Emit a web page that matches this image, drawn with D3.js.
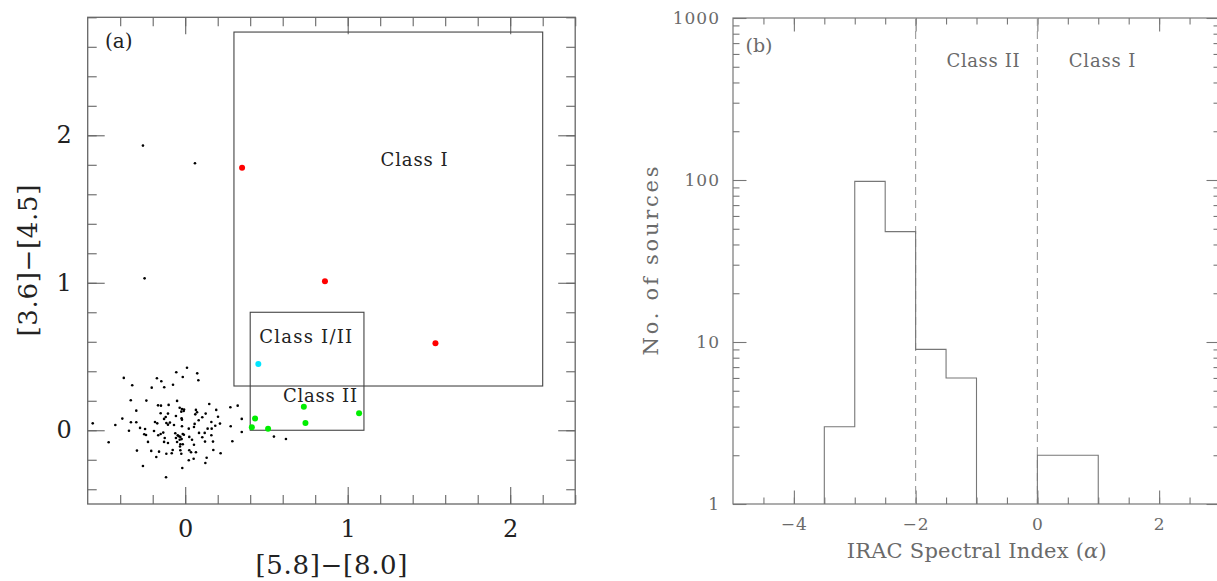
<!DOCTYPE html>
<html>
<head>
<meta charset="utf-8">
<script src="https://cdn.jsdelivr.net/npm/d3@7"></script>
<style>
  body { margin: 0; background: #fff; }
  svg { display: block; }
  text { font-family: "DejaVu Serif", "Liberation Serif", serif; }
</style>
</head>
<body>
<div id="plot"></div>
<script>
// ---- data: panel (a) colour-colour diagram ----
// field stars (black dots)
var bgX = [-0.378,-0.326,-0.174,-0.147,-0.206,-0.129,-0.335,-0.239,-0.167,-0.149,-0.102,-0.301,-0.151,-0.106,-0.120,-0.130,-0.387,
  -0.055,0.011,-0.015,0.074,0.081,-0.075,-0.050,-0.034,-0.020,-0.007,-0.024,-0.009,0.066,0.073,0.062,0.148,0.191,0.126,0.202,0.278,0.323,-0.057,-0.022,0.105,0.348,
  -0.569,-0.430,-0.334,-0.301,-0.346,-0.278,-0.247,-0.252,-0.241,-0.186,-0.172,-0.192,-0.166,-0.151,-0.116,-0.106,-0.135,-0.126,-0.229,-0.130,-0.106,-0.471,-0.297,-0.209,-0.161,-0.116,-0.178,-0.260,-0.118,
  -0.069,-0.020,-0.020,0.058,0.054,0.083,0.161,0.185,0.214,0.138,0.163,0.022,0.085,0.120,0.161,0.105,-0.061,-0.046,-0.030,-0.015,-0.057,-0.034,-0.015,-0.030,0.025,0.042,0.054,0.122,0.171,0.280,0.348,0.290,
  -0.077,-0.083,-0.030,-0.024,0.025,0.036,0.066,0.173,0.218,0.052,0.022,0.132,0.124,-0.018,-0.094,
  -0.040,-0.022,-0.050,-0.008,-0.032,0.546,0.620,-0.26,0.06,-0.25];
var bgY = [0.355,0.305,0.353,0.332,0.289,0.292,0.203,0.201,0.169,0.167,0.172,0.133,0.115,0.113,0.090,0.077,0.079,
  0.393,0.424,0.361,0.386,0.339,0.309,0.199,0.153,0.144,0.140,0.126,0.131,0.138,0.122,0.108,0.178,0.138,0.113,0.092,0.156,0.167,0.097,0.081,0.088,0.077,
  0.047,0.036,0.054,0.054,-0.003,0.016,0.009,-0.027,-0.032,0.056,0.047,-0.005,-0.034,-0.025,0.049,0.038,-0.016,-0.052,-0.079,-0.079,-0.086,-0.081,-0.138,-0.140,-0.145,-0.159,-0.181,-0.242,-0.319,
  0.036,0.072,0.027,0.043,0.022,0.068,0.056,0.031,0.045,0.011,0.011,0.011,-0.018,-0.018,-0.034,-0.047,-0.020,-0.034,-0.045,-0.025,-0.052,-0.064,-0.095,-0.095,-0.045,-0.064,-0.098,-0.077,-0.077,0.027,-0.012,-0.075,
  -0.134,-0.156,-0.136,-0.159,-0.136,-0.149,-0.149,-0.134,-0.156,-0.193,-0.203,-0.186,-0.222,-0.256,0.052,
  -0.040,-0.060,-0.080,-0.030,-0.110,-0.043,-0.059,1.93,1.81,1.03];
// young stellar objects
var class1X = [0.35, 0.86, 1.54], class1Y = [1.78, 1.01, 0.59];
var class12X = [0.45], class12Y = [0.45];
var class2X = [0.41, 0.43, 0.51, 0.73, 0.74, 1.07], class2Y = [0.02, 0.08, 0.01, 0.16, 0.05, 0.115];
// class boundaries [x0, x1, y0, y1]
var boxClassI = [0.3, 2.2, 0.3, 2.7];
var boxClassII = [0.4, 1.1, 0.0, 0.8];

// ---- data: panel (b) histogram of spectral index ----
var binStart = [-3.5, -3.0, -2.5, -2.0, -1.5, 0.0, 0.5];
var binCount = [3, 98, 48, 9, 6, 2, 2];
var binWidth = 0.5;
var classLines = [-2, 0];

var xTicksA = [0, 1, 2], yTicksA = [0, 1, 2];
var xTicksB = [-4, -2, 0, 2], yTicksB = [1, 10, 100, 1000];

var W = 1217, H = 581;
var svg = d3.select("#plot").append("svg").attr("width", W).attr("height", H);
svg.append("rect").attr("width", W).attr("height", H).attr("fill", "#fff");

// ================= panel (a) =================
var xA = d3.scaleLinear().domain([-0.6, 2.4]).range([87.7, 575.2]);
var yA = d3.scaleLinear().domain([-0.5, 2.8]).range([504, 17.3]);
var gA = svg.append("g");
var frameA = "#666", inkA = "#222";

function inward(g, axisFn, scale, vals, size, pos, col) {
  var a = g.append("g").attr("transform", pos)
    .call(axisFn(scale).tickValues(vals).tickSize(-size).tickFormat(""));
  a.select(".domain").remove();
  a.selectAll("line").attr("stroke", col).attr("stroke-width", 1.1);
  return a;
}
var minorXA = d3.range(-0.4, 2.41, 0.2).map(function(v){ return +v.toFixed(1); });
var minorYA = d3.range(-0.4, 2.81, 0.2).map(function(v){ return +v.toFixed(1); });
[[d3.axisBottom, "translate(0,504)"], [d3.axisTop, "translate(0,17.3)"]].forEach(function(p){
  inward(gA, p[0], xA, minorXA, 9, p[1], frameA);
  inward(gA, p[0], xA, xTicksA, 17, p[1], frameA);
});
[[d3.axisLeft, "translate(87.7,0)"], [d3.axisRight, "translate(575.2,0)"]].forEach(function(p){
  inward(gA, p[0], yA, minorYA, 9, p[1], frameA);
  inward(gA, p[0], yA, yTicksA, 17, p[1], frameA);
});
gA.append("rect").attr("x", 87.7).attr("y", 17.3).attr("width", 575.2 - 87.7).attr("height", 504 - 17.3)
  .attr("fill", "none").attr("stroke", frameA).attr("stroke-width", 1.3);

// tick labels
var lxA = gA.append("g").attr("transform", "translate(0,504)")
  .call(d3.axisBottom(xA).tickValues(xTicksA).tickSize(0).tickPadding(16).tickFormat(d3.format("d")));
var lyA = gA.append("g").attr("transform", "translate(87.7,0)")
  .call(d3.axisLeft(yA).tickValues(yTicksA).tickSize(0).tickPadding(16).tickFormat(d3.format("d")));
[lxA, lyA].forEach(function(a){
  a.select(".domain").remove();
  a.selectAll("text").attr("font-family", "DejaVu Serif").attr("font-size", 24).attr("fill", inkA);
});

// class boxes
[boxClassI, boxClassII].forEach(function(b){
  gA.append("rect").attr("x", xA(b[0])).attr("y", yA(b[3]))
    .attr("width", xA(b[1]) - xA(b[0])).attr("height", yA(b[2]) - yA(b[3]))
    .attr("fill", "none").attr("stroke", "#444").attr("stroke-width", 1.1);
});

// points
gA.append("g").selectAll("circle").data(d3.range(bgX.length)).enter().append("circle")
  .attr("cx", function(i){ return xA(bgX[i]); }).attr("cy", function(i){ return yA(bgY[i]); })
  .attr("r", 1.3).attr("fill", "#000");
function ysos(xs, ys, col) {
  gA.append("g").selectAll("circle").data(d3.range(xs.length)).enter().append("circle")
    .attr("cx", function(i){ return xA(xs[i]); }).attr("cy", function(i){ return yA(ys[i]); })
    .attr("r", 3).attr("fill", col);
}
ysos(class1X, class1Y, "#ff0000");
ysos(class12X, class12Y, "#00e5ff");
ysos(class2X, class2Y, "#00ee00");

// labels
gA.append("text").attr("x", 105).attr("y", 48).attr("font-size", 20).attr("fill", inkA).text("(a)");
[["Class I", 414, 165.7, 67], ["Class I/II", 305.7, 342.7, 93], ["Class II", 320, 401.7, 74]].forEach(function(t){
  gA.append("text").attr("x", t[1]).attr("y", t[2]).attr("text-anchor", "middle")
    .attr("font-size", 18).attr("fill", inkA)
    .attr("textLength", t[3]).attr("lengthAdjust", "spacing").text(t[0]);
});
gA.append("text").attr("transform", "translate(37,260.6) rotate(-90)").attr("text-anchor", "middle")
  .attr("font-size", 26).attr("fill", inkA).attr("textLength", 152).attr("lengthAdjust", "spacing")
  .text("[3.6]\u2212[4.5]");
gA.append("text").attr("x", 331.5).attr("y", 574).attr("text-anchor", "middle")
  .attr("font-size", 26).attr("fill", inkA).attr("textLength", 152).attr("lengthAdjust", "spacing")
  .text("[5.8]\u2212[8.0]");

// ================= panel (b) =================
var xB = d3.scaleLinear().domain([-5, 3]).range([733, 1220]);
var yB = d3.scaleLog().domain([1, 1000]).range([504, 18]);
var gB = svg.append("g");
var frameB = "#777", inkB = "#6a6a6a";

var minorXB = d3.range(-4.5, 3.01, 0.5);
var minorYB = [];
[1, 10, 100].forEach(function(d){ for (var k = 2; k <= 9; k++) minorYB.push(d * k); });
[[d3.axisBottom, "translate(0,504)"], [d3.axisTop, "translate(0,18)"]].forEach(function(p){
  inward(gB, p[0], xB, minorXB, 6.5, p[1], frameB);
  inward(gB, p[0], xB, xTicksB, 13.5, p[1], frameB);
});
[[d3.axisLeft, "translate(733,0)"], [d3.axisRight, "translate(1220,0)"]].forEach(function(p){
  inward(gB, p[0], yB, minorYB, 6.5, p[1], frameB);
  inward(gB, p[0], yB, yTicksB, 13.5, p[1], frameB);
});
gB.append("rect").attr("x", 733).attr("y", 18).attr("width", 1220 - 733).attr("height", 504 - 18)
  .attr("fill", "none").attr("stroke", frameB).attr("stroke-width", 1.2);

var lxB = gB.append("g").attr("transform", "translate(0,504)")
  .call(d3.axisBottom(xB).tickValues(xTicksB).tickSize(0).tickPadding(14).tickFormat(d3.format("d")));
var lyB = gB.append("g").attr("transform", "translate(733,0)")
  .call(d3.axisLeft(yB).tickValues(yTicksB).tickSize(0).tickPadding(13).tickFormat(d3.format("d")));
[lxB, lyB].forEach(function(a){
  a.select(".domain").remove();
  a.selectAll("text").attr("font-family", "DejaVu Serif").attr("font-size", 17).attr("fill", inkB)
    .attr("letter-spacing", 1);
});

// class divisions
classLines.forEach(function(v){
  gB.append("line").attr("x1", xB(v)).attr("x2", xB(v)).attr("y1", yB(1000)).attr("y2", yB(1))
    .attr("stroke", "#9a9a9a").attr("stroke-width", 1.1).attr("stroke-dasharray", "8,5");
});

// histogram step outline, grouped into contiguous runs
var runs = [], cur = null;
binStart.forEach(function(s, i){
  if (cur && Math.abs(cur.end - s) < 1e-9) { cur.bins.push(i); cur.end = s + binWidth; }
  else { cur = {bins: [i], end: s + binWidth}; runs.push(cur); }
});
var stepLine = d3.line().x(function(p){ return xB(p[0]); }).y(function(p){ return yB(p[1]); });
runs.forEach(function(r){
  var pts = [[binStart[r.bins[0]], 1]];
  r.bins.forEach(function(i){
    pts.push([binStart[i], binCount[i]]);
    pts.push([binStart[i] + binWidth, binCount[i]]);
  });
  pts.push([r.end, 1]);
  gB.append("path").attr("d", stepLine(pts)).attr("fill", "none")
    .attr("stroke", "#777").attr("stroke-width", 1.1);
});

// labels
gB.append("text").attr("x", 745.5).attr("y", 51.7).attr("font-size", 19).attr("fill", inkB).text("(b)");
[["Class II", 983, 66.7, 73], ["Class I", 1102, 66.7, 66.6]].forEach(function(t){
  gB.append("text").attr("x", t[1]).attr("y", t[2]).attr("text-anchor", "middle")
    .attr("font-size", 18).attr("fill", inkB)
    .attr("textLength", t[3]).attr("lengthAdjust", "spacing").text(t[0]);
});
gB.append("text").attr("transform", "translate(658,261) rotate(-90)").attr("text-anchor", "middle")
  .attr("font-size", 21).attr("fill", inkB).attr("textLength", 189).attr("lengthAdjust", "spacing")
  .text("No. of sources");
var xl = gB.append("text").attr("x", 976.7).attr("y", 558).attr("text-anchor", "middle")
  .attr("font-size", 21).attr("fill", inkB).attr("textLength", 260).attr("lengthAdjust", "spacing");
xl.append("tspan").text("IRAC Spectral Index (");
xl.append("tspan").attr("font-style", "italic").text("\u03b1");
xl.append("tspan").text(")");
</script>
</body>
</html>
